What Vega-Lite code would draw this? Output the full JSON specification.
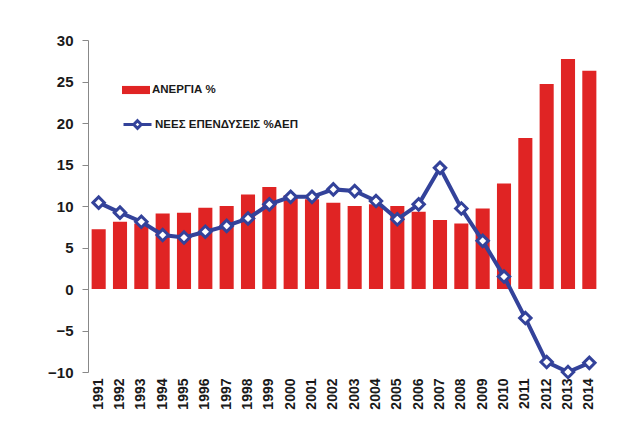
{
  "$schema": "https://vega.github.io/schema/vega-lite/v6.json",
  "autosize": {"type": "none"},
  "width": 512,
  "height": 332,
  "padding": {"left": 88, "top": 40, "right": 26, "bottom": 65},
  "background": "white",
  "config": {
    "view": {"stroke": null},
    "font": "Liberation Sans",
    "axis": {"grid": false, "labelFont": "Liberation Sans", "labelFontWeight": "bold", "labelColor": "#1a1a1a"}
  },
  "data": {
    "values": [
      {"year": "1991", "unemp": 7.2, "invest": 10.4},
      {"year": "1992", "unemp": 8.1, "invest": 9.2},
      {"year": "1993", "unemp": 7.9, "invest": 8.1},
      {"year": "1994", "unemp": 9.1, "invest": 6.5},
      {"year": "1995", "unemp": 9.2, "invest": 6.2},
      {"year": "1996", "unemp": 9.8, "invest": 6.9},
      {"year": "1997", "unemp": 10.0, "invest": 7.6},
      {"year": "1998", "unemp": 11.4, "invest": 8.5},
      {"year": "1999", "unemp": 12.3, "invest": 10.2},
      {"year": "2000", "unemp": 11.3, "invest": 11.1},
      {"year": "2001", "unemp": 10.8, "invest": 11.1},
      {"year": "2002", "unemp": 10.4, "invest": 12.0},
      {"year": "2003", "unemp": 10.0, "invest": 11.8},
      {"year": "2004", "unemp": 10.2, "invest": 10.6},
      {"year": "2005", "unemp": 10.0, "invest": 8.4},
      {"year": "2006", "unemp": 9.3, "invest": 10.2},
      {"year": "2007", "unemp": 8.3, "invest": 14.6},
      {"year": "2008", "unemp": 7.9, "invest": 9.7},
      {"year": "2009", "unemp": 9.7, "invest": 5.8},
      {"year": "2010", "unemp": 12.7, "invest": 1.5},
      {"year": "2011", "unemp": 18.2, "invest": -3.5},
      {"year": "2012", "unemp": 24.7, "invest": -8.8},
      {"year": "2013", "unemp": 27.7, "invest": -10.0},
      {"year": "2014", "unemp": 26.3, "invest": -8.9}
    ]
  },
  "encoding": {
    "x": {
      "field": "year", "type": "ordinal",
      "scale": {"paddingInner": 0.34, "paddingOuter": 0.17},
      "axis": {"title": null, "labelAngle": -90, "labelFontSize": 14, "domain": false, "ticks": false, "labelPadding": 6}
    }
  },
  "layer": [
    {
      "mark": {"type": "bar", "stroke": null},
      "encoding": {
        "y": {
          "field": "unemp", "type": "quantitative",
          "scale": {"domain": [-10, 30], "nice": false},
          "axis": {"title": null, "values": [-10, -5, 0, 5, 10, 15, 20, 25, 30], "labelFontSize": 15, "domainColor": "#888", "tickColor": "#888", "tickSize": 6, "labelPadding": 9}
        },
        "fill": {
          "datum": "ΑΝΕΡΓΙΑ  %",
          "scale": {"range": ["#E02424"]},
          "legend": {
            "title": null, "orient": "none", "legendX": 34, "legendY": 36, "padding": 0,
            "symbolType": "M-1,-0.29H1V0.29H-1Z", "symbolSize": 784, "symbolStrokeWidth": 0,
            "labelFontSize": 11.5, "labelFontWeight": "bold", "labelColor": "#1a1a1a", "labelOffset": 2
          }
        }
      }
    },
    {
      "mark": {"type": "rule", "color": "#999", "strokeWidth": 1},
      "encoding": {"y": {"datum": 0}}
    },
    {
      "mark": {"type": "line", "strokeWidth": 4},
      "encoding": {
        "y": {"field": "invest", "type": "quantitative"},
        "stroke": {
          "datum": "ΝΕΕΣ ΕΠΕΝΔΥΣΕΙΣ  %ΑΕΠ",
          "scale": {"range": ["#33429A"]},
          "legend": {
            "title": null, "orient": "none", "legendX": 34, "legendY": 69, "padding": 0,
            "symbolType": "M-1,0H-0.27M0.27,0H1M0,-0.27L0.27,0L0,0.27L-0.27,0Z", "symbolSize": 784,
            "symbolStrokeWidth": 3, "symbolFillColor": "white",
            "labelFontSize": 11.5, "labelFontWeight": "bold", "labelColor": "#1a1a1a", "labelOffset": 2
          }
        }
      }
    },
    {
      "mark": {"type": "point", "shape": "diamond", "filled": true, "fill": "white", "stroke": "#33429A", "strokeWidth": 3, "size": 130, "opacity": 1},
      "encoding": {"y": {"field": "invest", "type": "quantitative"}}
    }
  ]
}
